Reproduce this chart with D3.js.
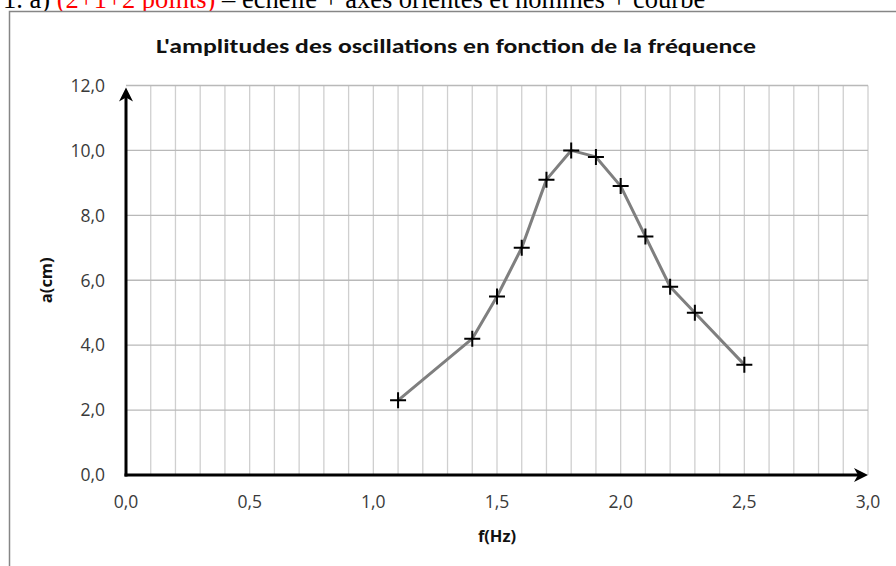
<!DOCTYPE html>
<html>
<head>
<meta charset="utf-8">
<script src="https://cdn.jsdelivr.net/npm/d3@7"></script>
<style>
  html, body { margin: 0; padding: 0; background: #fff; }
  svg { display: block; }
</style>
</head>
<body>
<div id="chart"></div>
<script>
// data
const freq = [1.1, 1.4, 1.5, 1.6, 1.7, 1.8, 1.9, 2.0, 2.1, 2.2, 2.3, 2.5];
const ampl = [2.3, 4.2, 5.5, 7.0, 9.1, 10.0, 9.8, 8.9, 7.35, 5.8, 5.0, 3.4];
const xTicks = [0, 0.5, 1.0, 1.5, 2.0, 2.5, 3.0];
const yTicks = [0, 2, 4, 6, 8, 10, 12];
const titleText = "L'amplitudes des oscillations en fonction de la fréquence";
const xLabel = "f(Hz)";
const yLabel = "a(cm)";

let width = 896;
let height = 566;
let margin = ({top: 85.5, right: 28, bottom: 91, left: 126});

let fmt = v => d3.format(".1f")(v).replace(".", ",");

const svg = d3.select("#chart").append("svg")
  .attr("width", width)
  .attr("height", height);

// header line of the page, cut off at the top like in the scan
const head = svg.append("text")
  .attr("x", 3)
  .attr("y", 8)
  .attr("font-family", "'Liberation Serif', 'DejaVu Serif', serif")
  .attr("font-size", 26.5);
head.append("tspan").text("1. a) ");
head.append("tspan").attr("fill", "#ff0000").text("(2+1+2 points)");
head.append("tspan").text(" – échelle + axes orientés et nommés + courbe");

// chart frame
svg.append("rect")
  .attr("x", 9.5)
  .attr("y", 11.5)
  .attr("width", 900)
  .attr("height", 600)
  .attr("fill", "#fff")
  .attr("stroke", "#868686")
  .attr("stroke-width", 1.5);

let x = d3.scaleLinear()
  .domain([0, 3])
  .range([margin.left, width - margin.right]);

let y = d3.scaleLinear()
  .domain([0, 12])
  .range([height - margin.bottom, margin.top]);

// grid
const grid = svg.append("g");
grid.selectAll("line.v")
  .data(d3.range(1, 31).map(i => i / 10))
  .enter().append("line")
  .attr("class", "v")
  .attr("x1", d => x(d)).attr("x2", d => x(d))
  .attr("y1", y(0)).attr("y2", y(12))
  .attr("stroke", "#cfcfcf")
  .attr("stroke-width", 1.3);
grid.selectAll("line.h")
  .data(yTicks.slice(1))
  .enter().append("line")
  .attr("class", "h")
  .attr("x1", x(0)).attr("x2", x(3))
  .attr("y1", d => y(d)).attr("y2", d => y(d))
  .attr("stroke", "#b9b9b9")
  .attr("stroke-width", 1.3);

// tick labels
svg.append("g").selectAll("text")
  .data(yTicks)
  .enter().append("text")
  .attr("x", x(0) - 21)
  .attr("y", d => y(d))
  .attr("dy", "0.36em")
  .attr("text-anchor", "end")
  .attr("font-family", "'Open Sans', sans-serif")
  .attr("font-size", 17.5)
  .attr("fill", "#3a3a3a")
  .text(fmt);

svg.append("g").selectAll("text")
  .data(xTicks)
  .enter().append("text")
  .attr("x", d => x(d))
  .attr("y", y(0) + 33)
  .attr("text-anchor", "middle")
  .attr("font-family", "'Open Sans', sans-serif")
  .attr("font-size", 17.5)
  .attr("fill", "#3a3a3a")
  .text(fmt);

// axes with arrows
const arrowY = `M${x(0)},${y(12) + 2} l-7,14 l7,-4 l7,4 Z`;
const arrowX = `M${x(3)},${y(0)} l-14,-7 l4,7 l-4,7 Z`;
svg.append("line")
  .attr("x1", x(0)).attr("x2", x(0))
  .attr("y1", y(0) + 1.5).attr("y2", y(12) + 10)
  .attr("stroke", "#000").attr("stroke-width", 3);
svg.append("path").attr("d", arrowY).attr("fill", "#000");
svg.append("line")
  .attr("x1", x(0) - 1.5).attr("x2", x(3) - 8)
  .attr("y1", y(0)).attr("y2", y(0))
  .attr("stroke", "#000").attr("stroke-width", 3);
svg.append("path").attr("d", arrowX).attr("fill", "#000");

// series
const pts = freq.map((f, i) => ({f: f, a: ampl[i]}));
svg.append("path")
  .datum(pts)
  .attr("fill", "none")
  .attr("stroke", "#7f7f7f")
  .attr("stroke-width", 3)
  .attr("stroke-linejoin", "round")
  .attr("d", d3.line().x(d => x(d.f)).y(d => y(d.a)));

svg.append("g").selectAll("path")
  .data(pts)
  .enter().append("path")
  .attr("d", d => `M${x(d.f) - 8},${y(d.a)} h16 M${x(d.f)},${y(d.a) - 8} v16`)
  .attr("stroke", "#000")
  .attr("stroke-width", 2);

// title and axis labels
svg.append("text")
  .attr("x", 456)
  .attr("y", 53)
  .attr("text-anchor", "middle")
  .attr("font-family", "Carlito, 'Open Sans', sans-serif")
  .attr("font-weight", "bold")
  .attr("font-size", 21)
  .attr("textLength", 600)
  .attr("lengthAdjust", "spacingAndGlyphs")
  .attr("fill", "#111")
  .text(titleText);

svg.append("text")
  .attr("x", (x(0) + x(3)) / 2)
  .attr("y", 542)
  .attr("text-anchor", "middle")
  .attr("font-family", "'Open Sans', sans-serif")
  .attr("font-weight", "bold")
  .attr("font-size", 16.5)
  .attr("fill", "#111")
  .text(xLabel);

svg.append("text")
  .attr("transform", `translate(52,${(y(0) + y(12)) / 2}) rotate(-90)`)
  .attr("text-anchor", "middle")
  .attr("font-family", "'Open Sans', sans-serif")
  .attr("font-weight", "bold")
  .attr("font-size", 16.5)
  .attr("fill", "#111")
  .text(yLabel);
</script>
</body>
</html>
